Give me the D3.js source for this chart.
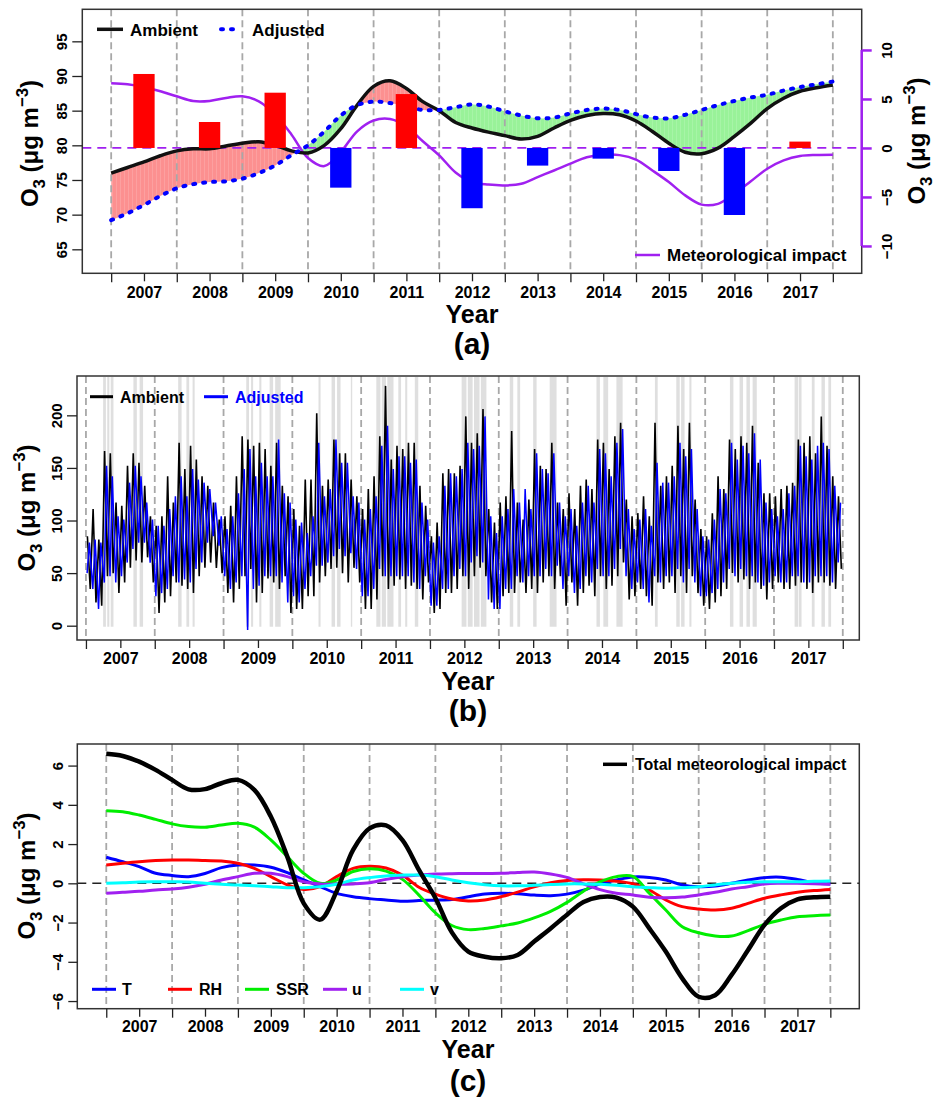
<!DOCTYPE html>
<html>
<head>
<meta charset="utf-8">
<script src="https://cdn.jsdelivr.net/npm/d3@7"></script>
<style>
  body { margin: 0; background: #fff; }
  text { font-family: "Liberation Sans", Arial, sans-serif; font-weight: bold; }
</style>
</head>
<body>
<svg id="chart" width="938" height="1107"></svg>
<script>
// ---- shared axis values ----
const yearEdges = [2007, 2008, 2009, 2010, 2011, 2012, 2013, 2014, 2015, 2016, 2017, 2018];
const yearLabels = [2007, 2008, 2009, 2010, 2011, 2012, 2013, 2014, 2015, 2016, 2017];

// ---- panel (a): smoothed trends, read every quarter year from 2007.0 to 2018.0 ----
const quarterYears = d3.range(45).map(i => 2007 + i * 0.25);
const ambientTrend = [
  76.0, 76.8, 77.6, 78.5,
  79.2, 79.5, 79.5, 79.9,
  80.3, 80.5, 80.0, 79.2,
  78.9, 80.0, 82.4, 85.8,
  88.5, 89.3, 88.2, 86.3,
  85.0, 83.3, 82.5, 81.9,
  81.4, 80.9, 81.3, 82.5,
  83.6, 84.3, 84.6, 84.4,
  83.5, 82.0, 80.3, 79.0,
  78.8, 79.6, 81.3, 83.2,
  85.3, 86.8, 87.8, 88.3,
  88.7];
const adjustedTrend = [
  69.2, 70.2, 71.4, 72.7,
  73.8, 74.4, 74.7, 74.8,
  75.2, 76.0, 77.1, 78.6,
  80.0, 82.0, 84.3, 85.8,
  86.3, 86.1, 85.6, 85.1,
  85.1, 85.5, 85.9, 85.6,
  84.9, 84.3, 83.9, 84.0,
  84.6, 85.1, 85.3, 85.1,
  84.5, 84.0, 83.9, 84.4,
  85.1, 85.8, 86.4, 86.9,
  87.3, 87.9, 88.4, 88.8,
  89.2];
// meteorological impact (also the total in panel c)
const metImpact = [
  6.6, 6.49, 6.2, 5.78,
  5.27, 4.79, 4.8, 5.1,
  5.27, 4.76, 3.4, 1.36,
  -1.02, -1.85, -0.4, 1.7,
  2.8, 2.95, 2.2, 0.68,
  -0.75, -2.5, -3.48, -3.74,
  -3.82, -3.65, -2.97, -2.3,
  -1.6, -0.95, -0.7, -0.73,
  -1.19, -2.3, -3.48, -4.84,
  -5.78, -5.7, -4.67, -3.4,
  -2.12, -1.27, -0.82, -0.71,
  -0.68];
const barValues = [7.55, 2.65, 5.64, -4.05, 5.5, -6.15, -1.8, -1.09, -2.35, -6.84, 0.65];

// ---- panel (b): monthly high / low of the daily series, Jan 2007 .. Dec 2017 ----
const ambientMax = [
  85, 111, 82, 166, 164, 117, 114, 152, 164, 155, 133, 104,
  95, 104, 142, 117, 174, 149, 171, 158, 142, 133, 117, 101,
  104, 114, 142, 180, 177, 171, 174, 168, 152, 174, 133, 123,
  111, 95, 139, 139, 202, 133, 139, 177, 164, 164, 139, 123,
  111, 130, 142, 180, 228, 158, 171, 168, 174, 174, 133, 114,
  85, 98, 145, 149, 145, 152, 199, 174, 183, 206, 111, 98,
  117, 123, 185, 117, 101, 120, 168, 152, 149, 174, 117, 111,
  126, 111, 133, 139, 130, 177, 174, 149, 180, 193, 120, 104,
  107, 123, 104, 193, 133, 142, 152, 190, 168, 193, 120, 92,
  85, 107, 142, 130, 177, 168, 180, 174, 190, 155, 126, 126,
  123, 130, 133, 136, 177, 174, 180, 164, 199, 171, 142, 123];
const ambientMin = [
  35, 22, 19, 47, 50, 31, 41, 55, 62, 60, 65, 41,
  12, 22, 28, 41, 38, 35, 31, 47, 55, 60, 55, 50,
  31, 22, 35, 47, 54, 22, 31, 45, 41, 35, 47, 12,
  16, 16, 28, 28, 41, 47, 54, 55, 50, 41, 55, 41,
  16, 16, 25, 47, 35, 38, 44, 35, 38, 35, 25, 41,
  12, 16, 31, 31, 35, 47, 35, 47, 55, 47, 22, 16,
  28, 31, 31, 41, 31, 35, 31, 41, 47, 35, 47, 19,
  41, 19, 31, 38, 28, 47, 35, 38, 47, 60, 25, 28,
  35, 28, 19, 41, 35, 41, 31, 47, 31, 47, 31, 19,
  16, 22, 28, 35, 50, 41, 44, 35, 41, 35, 25, 35,
  41, 35, 35, 38, 41, 35, 31, 41, 41, 38, 35, 54];
const adjustedMax = [
  79, 82, 79, 152, 142, 104, 101, 136, 152, 142, 117, 101,
  95, 95, 111, 123, 142, 123, 149, 139, 136, 130, 117, 104,
  92, 104, 126, 149, 168, 142, 155, 142, 142, 177, 126, 117,
  101, 98, 88, 104, 174, 123, 130, 177, 155, 155, 123, 117,
  101, 111, 123, 171, 190, 149, 161, 161, 155, 158, 117, 101,
  79, 85, 133, 145, 142, 149, 174, 168, 171, 199, 104, 88,
  104, 111, 130, 117, 130, 111, 164, 149, 145, 164, 117, 104,
  111, 95, 117, 133, 117, 168, 164, 142, 174, 187, 111, 92,
  101, 111, 95, 155, 136, 136, 142, 174, 161, 168, 111, 85,
  82, 101, 130, 126, 174, 158, 171, 164, 183, 158, 117, 111,
  104, 111, 126, 133, 171, 161, 158, 171, 174, 168, 133, 117];
const adjustedMin = [
  50, 35, 16, 41, 47, 41, 47, 60, 73, 79, 79, 60,
  28, 31, 35, 47, 41, 44, 41, 54, 60, 79, 85, 76,
  47, 35, 41, 47, -4, 35, 38, 47, 47, 47, 41, 22,
  28, 22, 35, 47, 57, 57, 60, 66, 73, 66, 69, 54,
  28, 28, 35, 54, 47, 47, 47, 47, 47, 41, 35, 47,
  19, 19, 35, 35, 47, 54, 47, 60, 66, 60, 25, 16,
  16, 35, 35, 47, 41, 47, 47, 47, 54, 47, 57, 35,
  47, 31, 35, 47, 41, 54, 47, 47, 54, 73, 47, 35,
  41, 35, 22, 47, 41, 47, 47, 54, 41, 54, 41, 28,
  28, 31, 35, 41, 54, 47, 54, 47, 47, 41, 38, 41,
  47, 41, 41, 47, 47, 41, 41, 47, 47, 47, 41, 60];
// grey shaded episodes (decimal years)
const bandStart = [2007.25, 2007.31, 2007.36, 2007.69, 2007.78, 2008.34, 2008.46, 2008.55, 2009.33, 2009.40,
  2009.52, 2009.67, 2009.75, 2010.38, 2010.57, 2010.65, 2010.85, 2011.22, 2011.30, 2011.38, 2011.54, 2011.64,
  2011.78, 2012.46, 2012.55, 2012.64, 2012.74, 2013.16, 2013.27, 2013.50, 2013.74, 2014.42, 2014.52, 2014.71,
  2015.27, 2015.58, 2015.65, 2015.77, 2016.36, 2016.50, 2016.60, 2016.69, 2017.30, 2017.36, 2017.55, 2017.69, 2017.79];
const bandEnd = [2007.29, 2007.34, 2007.40, 2007.74, 2007.83, 2008.39, 2008.50, 2008.58, 2009.37, 2009.43,
  2009.55, 2009.72, 2009.83, 2010.41, 2010.62, 2010.70, 2010.87, 2011.28, 2011.36, 2011.47, 2011.58, 2011.67,
  2011.83, 2012.53, 2012.62, 2012.72, 2012.82, 2013.21, 2013.31, 2013.55, 2013.84, 2014.47, 2014.59, 2014.80,
  2015.31, 2015.63, 2015.70, 2015.80, 2016.41, 2016.55, 2016.65, 2016.75, 2017.35, 2017.40, 2017.59, 2017.74, 2017.83];

// ---- panel (c): contributions of each variable, quarter years ----
const tempContrib = [
  1.33, 1.1, 0.85, 0.51, 0.4, 0.34, 0.5, 0.8, 0.93, 0.93, 0.82, 0.54,
  0.17, -0.17, -0.51, -0.68, -0.78, -0.85, -0.92, -0.88, -0.86, -0.83, -0.68, -0.55,
  -0.51, -0.53, -0.6, -0.63, -0.55, -0.35, -0.03, 0.17, 0.32, 0.3, 0.17, -0.08,
  -0.17, -0.14, 0.0, 0.17, 0.29, 0.31, 0.2, 0.03, -0.03];
const rhContrib = [
  0.93, 1.02, 1.1, 1.16, 1.19, 1.19, 1.16, 1.14, 1.02, 0.76, 0.34, -0.08,
  -0.31, -0.17, 0.34, 0.76, 0.87, 0.78, 0.42, -0.2, -0.55, -0.8, -0.9, -0.85,
  -0.68, -0.45, -0.18, 0.03, 0.14, 0.18, 0.17, 0.11, -0.02, -0.34, -0.85, -1.19,
  -1.31, -1.36, -1.27, -1.02, -0.76, -0.59, -0.46, -0.37, -0.31];
const ssrContrib = [
  3.7, 3.65, 3.48, 3.26, 3.03, 2.89, 2.86, 2.97, 3.06, 2.86, 2.21, 1.36,
  0.51, 0.0, 0.17, 0.6, 0.74, 0.62, 0.2, -0.6, -1.5, -2.15, -2.36, -2.3,
  -2.17, -2.02, -1.76, -1.43, -0.97, -0.4, 0.07, 0.34, 0.35, -0.51, -1.36, -2.21,
  -2.52, -2.69, -2.69, -2.41, -2.09, -1.87, -1.7, -1.65, -1.61];
const uContrib = [
  -0.51, -0.46, -0.41, -0.34, -0.29, -0.2, -0.05, 0.17, 0.34, 0.51, 0.51, 0.34,
  0.08, -0.03, -0.05, -0.03, 0.03, 0.2, 0.34, 0.42, 0.47, 0.49, 0.5, 0.5,
  0.51, 0.55, 0.58, 0.48, 0.3, -0.03, -0.32, -0.51, -0.59, -0.71, -0.73, -0.7,
  -0.59, -0.46, -0.29, -0.17, -0.03, 0.0, 0.0, -0.02, -0.05];
const vContrib = [
  0.0, 0.03, 0.07, 0.08, 0.08, 0.07, 0.0, -0.05, -0.08, -0.12, -0.17, -0.22,
  -0.22, -0.17, -0.05, 0.17, 0.29, 0.37, 0.42, 0.42, 0.34, 0.17, 0.03, -0.07,
  -0.13, -0.13, -0.1, -0.06, -0.03, -0.03, -0.05, -0.1, -0.18, -0.22, -0.25, -0.22,
  -0.17, -0.08, 0.0, 0.05, 0.08, 0.08, 0.08, 0.1, 0.12];

const PURPLE = "#A020F0";
const FONT = '"Liberation Sans", Arial, sans-serif';
const SMOOTH = d3.curveCatmullRom.alpha(0.5);
const svg = d3.select("#chart");

// x axis with ticks on year edges and labelled mid-year ticks
function drawXAxis(g, x, bottom, labelBase) {
  const edges = g.append("g").attr("transform", `translate(0,${bottom})`)
    .call(d3.axisBottom(x).tickValues(yearEdges).tickSize(9).tickFormat(""));
  edges.select(".domain").remove();
  edges.selectAll("line").attr("stroke", "#222").attr("stroke-width", 1.3);
  const mids = g.append("g").attr("transform", `translate(0,${bottom})`)
    .call(d3.axisBottom(x).tickValues(yearLabels.map(d => d + 0.5)).tickSize(8)
      .tickFormat((d, i) => yearLabels[i]));
  mids.select(".domain").remove();
  mids.attr("font-family", FONT).attr("font-size", 16).attr("font-weight", "bold");
  mids.selectAll("line").attr("stroke", "#222").attr("stroke-width", 1.3);
  mids.selectAll("text").attr("y", labelBase - bottom).attr("dy", 0);
}

// left axis with rotated labels as in R
function drawLeftAxis(g, y, left, ticks, tickLen, labelOffset) {
  const ax = g.append("g").attr("transform", `translate(${left},0)`)
    .call(d3.axisLeft(y).tickValues(ticks).tickSize(tickLen));
  ax.select(".domain").remove();
  ax.attr("font-family", FONT).attr("font-size", 15).attr("font-weight", "bold");
  ax.selectAll("line").attr("stroke", "#222").attr("stroke-width", 1.3);
  ax.selectAll("text").attr("transform", "rotate(-90)").attr("x", 0)
    .attr("y", -labelOffset).attr("dy", 0).attr("text-anchor", "middle");
}

function drawYTitle(g, cx, cy, size) {
  const t = g.append("text").attr("transform", `translate(${cx},${cy}) rotate(-90)`)
    .attr("text-anchor", "middle").attr("font-size", size);
  t.append("tspan").text("O");
  t.append("tspan").attr("font-size", size * 0.7).attr("dy", size * 0.28).text("3");
  t.append("tspan").attr("dy", -size * 0.28).text(" (μg m");
  t.append("tspan").attr("font-size", size * 0.7).attr("dy", -size * 0.42).text("−3");
  t.append("tspan").attr("dy", size * 0.42).text(")");
}

function drawGrid(g, x, top, bottom) {
  g.append("g").selectAll("line").data(yearEdges).join("line")
    .attr("x1", d => x(d)).attr("x2", d => x(d))
    .attr("y1", top).attr("y2", bottom)
    .attr("stroke", "#a8a8a8").attr("stroke-width", 1.8).attr("stroke-dasharray", "7,4");
}

function drawBox(g, l, t, r, b) {
  g.append("rect").attr("x", l).attr("y", t).attr("width", r - l).attr("height", b - t)
    .attr("fill", "none").attr("stroke", "#333").attr("stroke-width", 1.5);
}

function drawTitles(g, cx, yearBase, tagBase, tag) {
  g.append("text").attr("x", cx).attr("y", yearBase).attr("text-anchor", "middle")
    .attr("font-size", 25).text("Year");
  g.append("text").attr("x", cx).attr("y", tagBase).attr("text-anchor", "middle")
    .attr("font-size", 30).text(tag);
}

// striped fill like the polygon shading in the original
function stripePattern(defs, id, color) {
  const p = defs.append("pattern").attr("id", id).attr("patternUnits", "userSpaceOnUse")
    .attr("width", 4).attr("height", 10);
  p.append("rect").attr("width", 4).attr("height", 10).attr("fill", color);
  p.append("line").attr("x1", 0.5).attr("x2", 0.5).attr("y1", 0).attr("y2", 10)
    .attr("stroke", "#fff").attr("stroke-opacity", 0.14).attr("stroke-width", 1);
}

// ================= panel (a) =================
(function panelA() {
  const L = 82.3, R = 861.7, T = 9.3, B = 273.3;
  const g = svg.append("g");
  const x = d3.scaleLinear().domain([2006.56, 2018.44]).range([L, R]);
  const yL = d3.scaleLinear().domain([61.54, 99.62]).range([B, T]);
  const yR = d3.scaleLinear().domain([-12.79, 14.15]).range([B, T]);
  const idx = d3.range(quarterYears.length);
  const cx = i => x(quarterYears[i]);

  const defs = g.append("defs");
  stripePattern(defs, "redStripe", "#fc9090");
  stripePattern(defs, "greenStripe", "#99f299");
  defs.append("clipPath").attr("id", "belowAmb").append("path")
    .attr("d", d3.area().x(cx).y0(B).y1(i => yL(ambientTrend[i])).curve(SMOOTH)(idx));
  defs.append("clipPath").attr("id", "aboveAmb").append("path")
    .attr("d", d3.area().x(cx).y0(T).y1(i => yL(ambientTrend[i])).curve(SMOOTH)(idx));

  g.append("path").attr("clip-path", "url(#belowAmb)").attr("fill", "url(#redStripe)")
    .attr("d", d3.area().x(cx).y0(i => yL(adjustedTrend[i])).y1(T).curve(SMOOTH)(idx));
  g.append("path").attr("clip-path", "url(#aboveAmb)").attr("fill", "url(#greenStripe)")
    .attr("d", d3.area().x(cx).y0(i => yL(adjustedTrend[i])).y1(B).curve(SMOOTH)(idx));

  drawGrid(g, x, T, B);

  // zero line of the right axis
  g.append("line").attr("x1", L).attr("x2", R).attr("y1", yR(0)).attr("y2", yR(0))
    .attr("stroke", PURPLE).attr("stroke-width", 1.8).attr("stroke-dasharray", "9,6");

  g.append("path").attr("fill", "none").attr("stroke", PURPLE).attr("stroke-width", 2.5)
    .attr("d", d3.line().x(cx).y(i => yR(metImpact[i])).curve(SMOOTH)(idx));
  g.append("path").attr("fill", "none").attr("stroke", "#111").attr("stroke-width", 3.5)
    .attr("d", d3.line().x(cx).y(i => yL(ambientTrend[i])).curve(SMOOTH)(idx));
  g.append("path").attr("fill", "none").attr("stroke", "#0000ff").attr("stroke-width", 4)
    .attr("stroke-linecap", "round").attr("stroke-dasharray", "2,8")
    .attr("d", d3.line().x(cx).y(i => yL(adjustedTrend[i])).curve(SMOOTH)(idx));

  // annual bars on the right axis
  g.append("g").selectAll("rect").data(barValues).join("rect")
    .attr("x", (d, i) => x(yearLabels[i] + 0.5 - 0.1625))
    .attr("width", (d, i) => x(yearLabels[i] + 0.5 + 0.1625) - x(yearLabels[i] + 0.5 - 0.1625))
    .attr("y", d => yR(Math.max(0, d)))
    .attr("height", d => Math.abs(yR(d) - yR(0)))
    .attr("fill", d => d >= 0 ? "#ff0000" : "#0000ff");

  drawBox(g, L, T, R, B);
  drawXAxis(g, x, B, 297.7);
  drawLeftAxis(g, yL, L, [65, 70, 75, 80, 85, 90, 95], 10, 15.6);

  // right axis in purple
  g.append("line").attr("x1", R).attr("x2", R).attr("y1", yR(-10)).attr("y2", yR(10))
    .attr("stroke", PURPLE).attr("stroke-width", 2.5);
  const ra = g.append("g").attr("transform", `translate(${R},0)`)
    .call(d3.axisRight(yR).tickValues([-10, -5, 0, 5, 10]).tickSize(10));
  ra.select(".domain").remove();
  ra.attr("font-family", FONT).attr("font-size", 15).attr("font-weight", "bold");
  ra.selectAll("line").attr("stroke", PURPLE).attr("stroke-width", 2.5);
  ra.selectAll("text").attr("fill", "#000").attr("transform", "rotate(-90)")
    .attr("x", 0).attr("y", 30).attr("dy", 0).attr("text-anchor", "middle");

  drawYTitle(g, 38, 143.5, 24);
  drawYTitle(g, 925, 141, 24);
  drawTitles(g, 472, 323, 354, "(a)");

  // legends
  g.append("line").attr("x1", 97).attr("x2", 123).attr("y1", 29.3).attr("y2", 29.3)
    .attr("stroke", "#111").attr("stroke-width", 3.5);
  g.append("text").attr("x", 130).attr("y", 35.5).attr("font-size", 17).text("Ambient");
  g.append("line").attr("x1", 221).attr("x2", 241).attr("y1", 29.3).attr("y2", 29.3)
    .attr("stroke", "#0000ff").attr("stroke-width", 4).attr("stroke-linecap", "round")
    .attr("stroke-dasharray", "2,8");
  g.append("text").attr("x", 252).attr("y", 35.5).attr("font-size", 17).text("Adjusted");
  g.append("line").attr("x1", 635).attr("x2", 660).attr("y1", 255).attr("y2", 255)
    .attr("stroke", PURPLE).attr("stroke-width", 2.5);
  g.append("text").attr("x", 667).attr("y", 261).attr("font-size", 17).text("Meteorological impact");
})();

// ================= panel (b) =================
(function panelB() {
  const L = 77, R = 859.3, T = 376, B = 640;
  const g = svg.append("g");
  const x = d3.scaleLinear().domain([2006.87, 2018.24]).range([L, R]);
  const y = d3.scaleLinear().domain([-13.6, 237.4]).range([B, T]);

  g.append("g").selectAll("rect").data(bandStart).join("rect")
    .attr("x", d => x(d)).attr("width", (d, i) => Math.max(1, x(bandEnd[i]) - x(d)))
    .attr("y", T + 1).attr("height", y(-1) - T - 1)
    .attr("fill", "#c4c4c4").attr("opacity", 0.55);

  drawGrid(g, x, T, B);

  const ambPts = ambientMax.flatMap((v, i) => [
    [2007 + (i + 0.25) / 12, v], [2007 + (i + 0.75) / 12, ambientMin[i]]]);
  const adjPts = adjustedMin.flatMap((v, i) => [
    [2007 + (i + 0.2) / 12, v], [2007 + (i + 0.6) / 12, adjustedMax[i]]]);
  const line = d3.line().x(d => x(d[0])).y(d => y(d[1]));
  g.append("path").attr("fill", "none").attr("stroke", "#000").attr("stroke-width", 1.6)
    .attr("d", line(ambPts));
  g.append("path").attr("fill", "none").attr("stroke", "#0000ff").attr("stroke-width", 1.5)
    .attr("d", line(adjPts));

  drawBox(g, L, T, R, B);
  drawXAxis(g, x, B, 664);
  drawLeftAxis(g, y, L, [0, 50, 100, 150, 200], 10, 15);
  drawYTitle(g, 35, 508, 24);
  drawTitles(g, 468, 690, 721, "(b)");

  g.append("line").attr("x1", 90).attr("x2", 113).attr("y1", 396.7).attr("y2", 396.7)
    .attr("stroke", "#000").attr("stroke-width", 3);
  g.append("text").attr("x", 120).attr("y", 402.5).attr("font-size", 16).text("Ambient");
  g.append("line").attr("x1", 204).attr("x2", 228).attr("y1", 396.7).attr("y2", 396.7)
    .attr("stroke", "#0000ff").attr("stroke-width", 3);
  g.append("text").attr("x", 235).attr("y", 402.5).attr("font-size", 16)
    .attr("fill", "#0000ff").text("Adjusted");
})();

// ================= panel (c) =================
(function panelC() {
  const L = 77.3, R = 859.3, T = 744, B = 1008.7;
  const g = svg.append("g");
  const x = d3.scaleLinear().domain([2006.56, 2018.44]).range([L, R]);
  const y = d3.scaleLinear().domain([-6.39, 7.10]).range([B, T]);
  const idx = d3.range(quarterYears.length);
  const mk = arr => d3.line().x(i => x(quarterYears[i])).y(i => y(arr[i])).curve(SMOOTH)(idx);

  drawGrid(g, x, T, B);
  g.append("line").attr("x1", L).attr("x2", R).attr("y1", y(0)).attr("y2", y(0))
    .attr("stroke", "#222").attr("stroke-width", 1.6).attr("stroke-dasharray", "9,6");

  const series = [
    { name: "T", data: tempContrib, color: "#0000ff", lx: 92, tx: 122 },
    { name: "RH", data: rhContrib, color: "#ff0000", lx: 168, tx: 199 },
    { name: "SSR", data: ssrContrib, color: "#00ee00", lx: 245, tx: 276 },
    { name: "u", data: uContrib, color: PURPLE, lx: 323, tx: 352 },
    { name: "v", data: vContrib, color: "#00ffff", lx: 400, tx: 430 }
  ];
  series.forEach(s => {
    g.append("path").attr("fill", "none").attr("stroke", s.color).attr("stroke-width", 3)
      .attr("d", mk(s.data));
  });
  g.append("path").attr("fill", "none").attr("stroke", "#000").attr("stroke-width", 4.5)
    .attr("d", mk(metImpact));

  drawBox(g, L, T, R, B);
  drawXAxis(g, x, B, 1031.7);
  drawLeftAxis(g, y, L, [-6, -4, -2, 0, 2, 4, 6], 9, 14.3);
  drawYTitle(g, 35, 876, 24);
  drawTitles(g, 468, 1058, 1091, "(c)");

  series.forEach(s => {
    g.append("line").attr("x1", s.lx).attr("x2", s.lx + 24).attr("y1", 989.3).attr("y2", 989.3)
      .attr("stroke", s.color).attr("stroke-width", 3);
    g.append("text").attr("x", s.tx).attr("y", 995).attr("font-size", 16).text(s.name);
  });
  g.append("line").attr("x1", 603).attr("x2", 627).attr("y1", 764.3).attr("y2", 764.3)
    .attr("stroke", "#000").attr("stroke-width", 3.5);
  g.append("text").attr("x", 635).attr("y", 770).attr("font-size", 16).text("Total meteorological impact");
})();
</script>
</body>
</html>
